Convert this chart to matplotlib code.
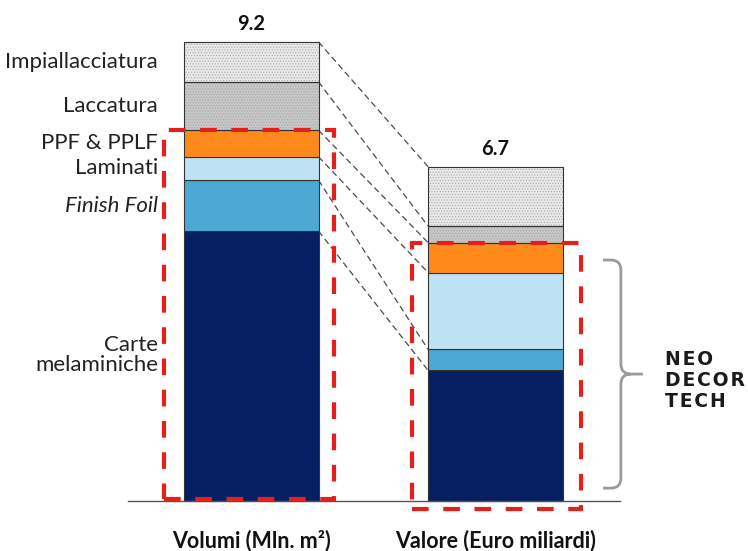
import matplotlib.pyplot as plt
import numpy as np
from matplotlib.patches import Rectangle, PathPatch
from matplotlib.path import Path

plt.rcParams['font.family'] = ['Lato', 'DejaVu Sans']
plt.rcParams['hatch.linewidth'] = 0.5

# segments, bottom to top
segmenti = ["Carte\nmelaminiche", "Finish Foil", "Laminati", "PPF & PPLF", "Laccatura", "Impiallacciatura"]
volumi = [5.41, 1.02, 0.47, 0.53, 0.97, 0.80]   # Mln. m2
valore = [2.62, 0.42, 1.54, 0.60, 0.33, 1.19]   # Euro miliardi
totali = ["9.2", "6.7"]
colonne = ["Volumi (Mln. m²)", "Valore (Euro miliardi)"]
logo = ["NEO", "DECOR", "TECH"]

colori = ['#061F63', '#4DA8D3', '#BEE3F5', '#FF8A1C', '#C6C6C6', '#E9E9E9']
trame = [None, None, None, None, '......', '......']
rosso = '#E3201B'

fig = plt.figure(figsize=(7.48, 5.51), dpi=100)
ax = fig.add_axes([0, 0, 1, 1])
ax.set_xlim(-1.027, 2.033)
ax.set_ylim(-1.0, 10.04)
ax.axis('off')

w = 0.552
px_x = 1 / 244.5
px_y = 1 / 49.92

serie = [volumi, valore]
cime = [np.cumsum(s) for s in serie]

# stacked columns
for i, s in enumerate(serie):
    base = np.concatenate([[0], cime[i][:-1]])
    for j, (h, b) in enumerate(zip(s, base)):
        if trame[j]:
            ax.bar(i, h, w, bottom=b, color=colori[j], hatch=trame[j],
                   edgecolor='#ababab', linewidth=0, zorder=2)
            ax.bar(i, h, w, bottom=b, fill=False, edgecolor='#333333',
                   linewidth=0.8, zorder=3)
        else:
            ax.bar(i, h, w, bottom=b, color=colori[j], edgecolor='#333333',
                   linewidth=0.8, zorder=3)
    ax.text(i, cime[i][-1] + 0.23, totali[i], ha='center', va='baseline',
            fontsize=14.5, fontweight='bold', color='#111111')
    ax.text(i, -0.92, colonne[i], ha='center', va='baseline',
            fontsize=15.5, fontweight='bold', color='#111111')

# dashed connectors between segment tops
for k in range(len(segmenti)):
    ax.plot([w / 2, 1 - w / 2], [cime[0][k], cime[1][k]], color='#4a4a4a',
            lw=0.9, ls=(0, (5, 3)), zorder=1)

# baseline
ax.plot([-0.503, 1.51], [0, 0], color='#555555', lw=1, zorder=4)

# segment labels beside the first column
base0 = np.concatenate([[0], cime[0][:-1]])
for j, nome in enumerate(segmenti):
    mid = (base0[j] + cime[0][j]) / 2
    if j == 0:
        mid += 0.22
    ax.text(-0.38, mid, nome, ha='right', va='center', multialignment='right',
            fontsize=16, color='#222222', linespacing=1.0,
            style='italic' if nome == "Finish Foil" else 'normal')

# red dashed boxes around the NeoDecorTech segments
neo_sx = cime[0][3]
neo_dx = cime[1][3]
box_sx = Rectangle((-w / 2 - 0.08, 0.04), w + 0.08 + 0.064, neo_sx - 0.04,
                   fill=False, edgecolor=rosso, lw=3, ls=(0, (4, 3.5)), zorder=6)
box_dx = Rectangle((1 - w / 2 - 0.066, -0.16), w + 0.066 + 0.074, neo_dx + 0.16,
                   fill=False, edgecolor=rosso, lw=3, ls=(0, (4, 3.5)), zorder=6)
ax.add_patch(box_sx)
ax.add_patch(box_dx)

# curly brace
top = neo_dx - 0.35
bot = 0.26
mid = (top + bot) / 2
x0, x1, xt = 1.44, 1.513, 1.603
rx, ry = 10 * px_x, 10 * px_y
verts = [(x0, top), (x1 - rx, top), (x1, top), (x1, top - ry), (x1, mid + ry),
         (x1, mid), (x1 + rx, mid), (xt, mid),
         (x1 + rx, mid), (x1, mid), (x1, mid - ry), (x1, bot + ry),
         (x1, bot), (x1 - rx, bot), (x0, bot)]
codes = [Path.MOVETO, Path.LINETO, Path.CURVE3, Path.CURVE3, Path.LINETO,
         Path.CURVE3, Path.CURVE3, Path.LINETO,
         Path.MOVETO, Path.CURVE3, Path.CURVE3, Path.LINETO,
         Path.CURVE3, Path.CURVE3, Path.LINETO]
ax.add_patch(PathPatch(Path(verts, codes), fill=False, edgecolor='#9A9A9A', lw=2))

# logo text
for k, parola in enumerate(logo):
    ax.text(1.693, mid + 0.18 - k * 0.42, '\u200a'.join(parola), ha='left',
            va='baseline', fontsize=13.5, fontweight='bold', color='#1A1A1A',
            family=['DejaVu Sans'])

fig.savefig('out.png', dpi=100)
